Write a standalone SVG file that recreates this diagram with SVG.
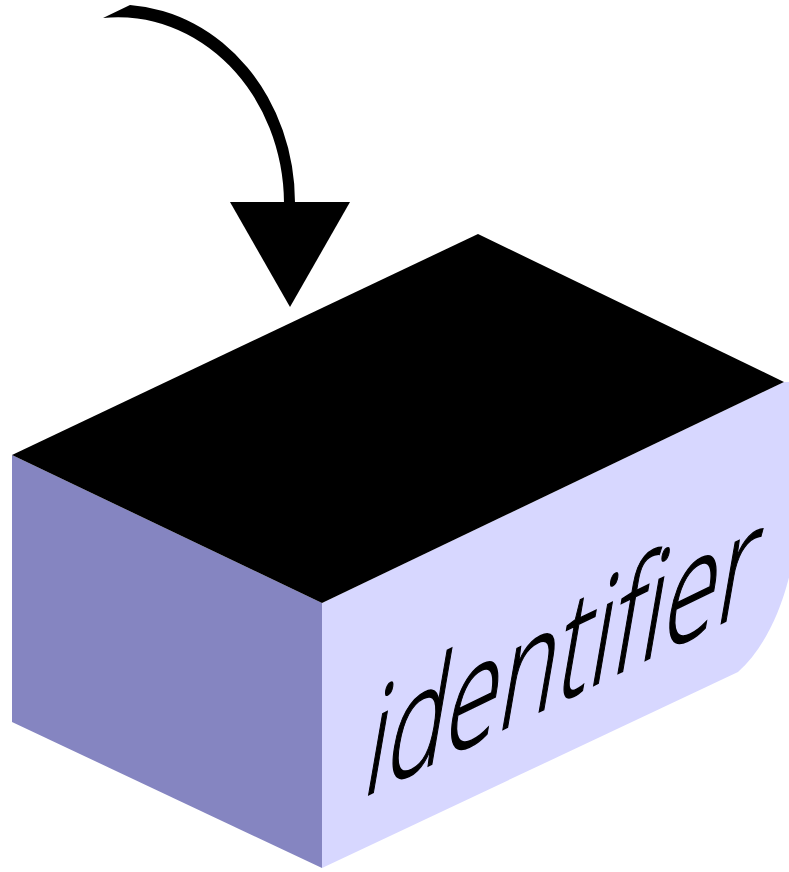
<svg xmlns="http://www.w3.org/2000/svg" width="789" height="872" viewBox="0 0 789 872">
  <style>
    .top { fill: #000000; }
    .left { fill: #8585c1; }
    .right { fill: #d7d7ff; }
    .label { font-family: "Open Sans", "DejaVu Sans", sans-serif; font-style: normal; font-weight: 300; font-size: 140px; fill: #000000; stroke: #000000; stroke-width: 1.6px; }
    .shaft { fill: #000000; }
    .head { fill: #000000; }
  </style>
  <rect x="0" y="0" width="789" height="872" fill="#ffffff"/>
  <g id="box">
    <polygon class="left" points="12,455 322,603 322,868 12,722"/>
    <path class="right" d="M322,603 L784,382 L795,382 L795,550 C786,600 768,645 738,672 L322,868 Z"/>
    <polygon class="top" points="12,455 478,234 784,382 322,603"/>
    <text class="label" transform="matrix(0.70,-0.34,0,1,360,799) skewX(-15)" x="0" y="0">identifier</text>
  </g>
  <g id="connectors">
    <path class="shaft" d="M103,18 L130,5 A177,198 0 0 1 295,203 L284,203 A166,187 0 0 0 103,18 Z"/>
    <polygon class="head" points="230,202 350,202 290,307"/>
  </g>
</svg>
